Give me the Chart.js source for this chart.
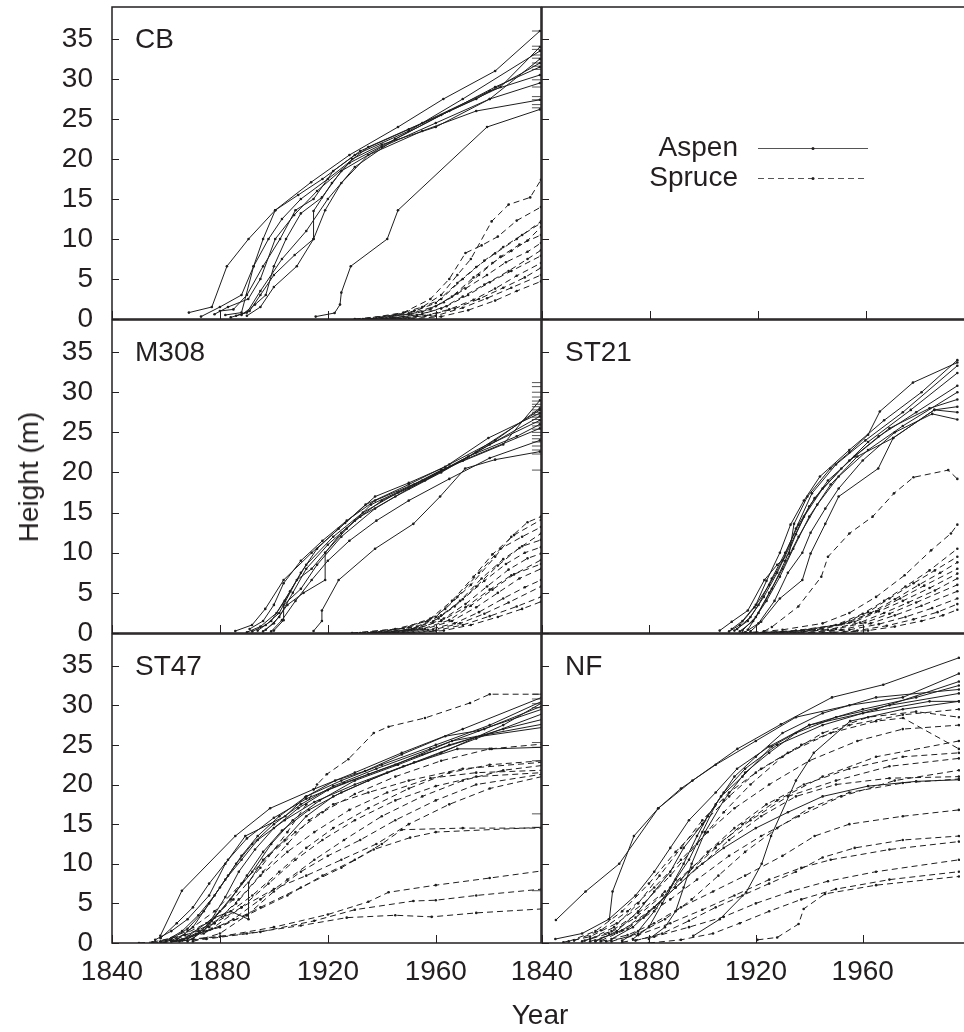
<!DOCTYPE html>
<html lang="en">
<head>
  <meta charset="UTF-8">
  <title>Aspen and spruce height growth</title>
  <script src="https://cdn.jsdelivr.net/npm/chart.js"></script>
  <style>
    body {
      margin: 0;
      background: #fff;
      font-family: 'Liberation Sans', Arial, sans-serif;
      color: #231f20;
    }
    #wrap {
      position: relative;
      width: 964px;
      height: 1032px;
      overflow: hidden;
    }
    #wrap canvas {
      position: absolute;
      left: 0;
      top: 0;
    }
    .axis-title {
      position: absolute;
      font-size: 28px;
      white-space: nowrap;
      transform: translate(-50%, -50%);
    }
    #ytitle {
      left: 29px;
      top: 477px;
      transform: translate(-50%, -50%) rotate(-90deg);
    }
    #xtitle {
      left: 540px;
      top: 1015px;
    }
  </style>
</head>
<body>
  <div id="wrap">
    <canvas id="cb" width="964" height="1032"></canvas>
    <canvas id="key" width="964" height="1032"></canvas>
    <canvas id="m308" width="964" height="1032"></canvas>
    <canvas id="st21" width="964" height="1032"></canvas>
    <canvas id="st47" width="964" height="1032"></canvas>
    <canvas id="nf" width="964" height="1032"></canvas>
    <div class="axis-title" id="ytitle">Height (m)</div>
    <div class="axis-title" id="xtitle">Year</div>
  </div>

  <script>
    // axes
    const yearTicks = [1840, 1880, 1920, 1960];
    const heightTicks = [0, 5, 10, 15, 20, 25, 30, 35];
    const speciesNames = ['Aspen', 'Spruce'];

    // each tree: [year, height (m)]
    const cbAspen = [
      [[1868.5,0.8],[1877,1.5],[1882.6,6.6],[1890.6,10],[1900.5,13.6],[1913.8,17.1],[1928,20.5],[1946,24],[1962.8,27.5],[1982,31],[1998.6,36]],
      [[1873,0.3],[1880,1.5],[1888,3],[1892.5,6.6],[1896,10],[1900.5,13.6],[1909,15.5],[1918,17.5],[1930,20.5],[1950,23.5],[1970,27.5],[1998.6,33.5]],
      [[1878,0.6],[1883,1.5],[1890.5,2.5],[1895,5],[1900.5,10],[1907.5,13],[1916,16],[1928,19.5],[1945,22.5],[1965,26],[1982,29],[1998.6,31.5]],
      [[1880,1],[1885,1.2],[1890,3],[1896,6.6],[1902.3,10],[1908,13.6],[1914.7,15],[1922,18.5],[1932,21],[1950,23.7],[1975,27.5],[1998.6,32]],
      [[1882,0.5],[1888,0.8],[1892.5,6.6],[1898,10],[1903,12.5],[1910,15],[1920,17.5],[1935,21.5],[1955,24.5],[1980,28.5],[1998.6,30.5]],
      [[1886,0.4],[1891,1],[1895,3],[1900,5.5],[1907.7,8],[1914.7,10],[1914.7,13.5],[1921.5,17],[1929,20],[1940,21.8],[1960,24],[1980,27.5],[1998.6,32.5]],
      [[1888,0.5],[1893,1.8],[1897,3],[1900,6.6],[1904.5,10],[1910,13.2],[1917.8,15.2],[1925,18.5],[1940,21.5],[1960,24.5],[1980,27.5],[1998.6,29.5]],
      [[1890,0.4],[1895,1.5],[1900,4],[1908.5,6.6],[1914.7,10],[1919,13.6],[1925,17],[1935,20.5],[1955,23.5],[1975,26],[1998.6,27.4]],
      [[1884,0.2],[1890,0.8],[1895,3.5],[1903,7.5],[1912,11],[1920,15],[1930,19],[1945,22.5],[1962,25.5],[1984,29],[1998.6,34]],
      [[1915.5,0.3],[1922.5,0.75],[1924.5,1.8],[1925,3.3],[1928.5,6.6],[1942,10],[1946,13.6],[1979,24],[1998.6,26.2]]
    ];
    const cbSpruce = [
      [[1930,0],[1945,0.5],[1955,1.5],[1962,3],[1968,5.5],[1973,7.5],[1980.7,12.2],[1987,14.3],[1995,15.2],[1999,17.4]],
      [[1933,0],[1948,0.8],[1958,2.5],[1965,5],[1971,8.25],[1977,9.2],[1983,10.3],[1990,12.3],[1999,14]],
      [[1935,0],[1950,0.7],[1960,2],[1968,4.5],[1975,6.5],[1982,8.2],[1990,10],[1999,12.2]],
      [[1936,0],[1952,1],[1962,2.5],[1970,5],[1978,7.3],[1985,9],[1992,10.5],[1999,12]],
      [[1938,0.1],[1950,0.6],[1960,1.6],[1968,3.2],[1976,5.5],[1984,7.8],[1991,9.3],[1999,10.5]],
      [[1940,0.1],[1955,0.9],[1963,2.1],[1971,3.8],[1979,5.5],[1986,7.1],[1994,8.4],[1999,9.5]],
      [[1940,0],[1953,0.5],[1962,1.3],[1970,2.8],[1978,4.3],[1987,6],[1994,7.5],[1999,8.6]],
      [[1942,0],[1955,0.6],[1964,1.6],[1972,3],[1980,4.6],[1988,6],[1999,7.9]],
      [[1944,0.1],[1956,0.4],[1965,1.2],[1974,2.4],[1982,3.8],[1990,5.4],[1999,7]],
      [[1945,0],[1958,0.5],[1967,1.3],[1976,2.5],[1985,3.9],[1993,5.2],[1999,6.4]],
      [[1947,0],[1960,0.4],[1970,1.4],[1979,2.6],[1988,3.9],[1999,5.5]],
      [[1950,0],[1962,0.3],[1972,1.1],[1982,2.3],[1990,3.5],[1999,4.7]],
      [[1935,0],[1948,0.3],[1958,1.2],[1966,2.8],[1974,5.2],[1981,7],[1988,8.5],[1994,9.8],[1999,11.5]]
    ];
    const cbRug = [36, 34.1, 33.7, 33, 32.6, 32, 31.6, 31.2, 29.9, 29, 27.8, 27.4, 26.8, 26.4];

    const m308Aspen = [
      [[1885.7,0.25],[1891.9,1],[1896.8,3],[1903.6,6.6],[1914,10],[1926.4,13.7],[1937.5,17],[1950,18.7],[1963.5,20.7],[1979.5,24.3],[1998.6,27.4]],
      [[1891,0.5],[1896,1.5],[1900,3.5],[1903.6,6.2],[1910,9],[1918,11.5],[1927,14],[1937.5,16.5],[1955,19],[1975,22.5],[1998.6,27]],
      [[1892,0.2],[1897,1],[1902,2.5],[1908.5,6.6],[1914,8],[1919,10],[1925,12.5],[1932,14.5],[1945,17],[1962,20],[1980,23.5],[1998.6,26.5]],
      [[1894,0.3],[1899,1.5],[1904,4],[1910,7.5],[1916,10.5],[1924,13],[1934,16],[1950,18.5],[1965,21],[1982,24],[1998.6,28]],
      [[1896,0.2],[1900,1.2],[1905,3.5],[1911,5],[1919,6.6],[1919,10],[1927,13],[1936,16],[1952,18.5],[1970,21.5],[1998.6,25.5]],
      [[1897,0.4],[1902,2],[1907,5],[1912,8],[1920,11],[1930,14],[1940,16.5],[1956,19],[1972,22],[1990,24.5],[1998.6,26]],
      [[1899,0.2],[1903,1.6],[1908,4],[1914,6.6],[1920,9],[1928,11.5],[1938,14],[1950,16.5],[1965,19.2],[1980,21.8],[1998.6,24]],
      [[1900,0.3],[1903.6,1.6],[1903.6,3.5],[1910,5.5],[1916,8.5],[1925,12],[1937.5,15.5],[1950,18],[1970,21.5],[1998.6,27.8]],
      [[1914.7,0.25],[1917.8,1.5],[1917.8,2.8],[1924,6.6],[1937.5,10.5],[1951.7,13.6],[1961.6,17],[1970.9,20.5],[1982,21.6],[1998.6,22.6]],
      [[1890,0.1],[1895,0.8],[1901,2.5],[1906,5.2],[1912,8.5],[1922,12],[1933,15],[1946,17.5],[1962,20.3],[1985,23.5],[1998.6,29]]
    ];
    const m308Spruce = [
      [[1929,0],[1945,0.5],[1957,1.5],[1963.5,3],[1973,6],[1982,9.5],[1988,12],[1994,13.8],[1999,14.5]],
      [[1932,0],[1948,0.6],[1958,1.8],[1966,4],[1974,7],[1981,9.8],[1989,12.2],[1999,14.1]],
      [[1935,0],[1950,0.7],[1960,2],[1968,4.5],[1976,7.5],[1984,10.5],[1992,12],[1999,13.2]],
      [[1937,0],[1951,0.5],[1961,1.8],[1969,4],[1977,6.8],[1985,9.2],[1992,10.8],[1999,11.6]],
      [[1938,0.1],[1953,0.8],[1962,2.2],[1970,4.2],[1978,6.5],[1986,8.6],[1993,10],[1999,10.7]],
      [[1940,0],[1954,0.6],[1963,1.8],[1971,3.6],[1979,5.8],[1987,7.9],[1994,9.3],[1999,9.9]],
      [[1941,0],[1955,0.5],[1965,1.6],[1973,3.4],[1981,5.4],[1989,7.3],[1999,9.1]],
      [[1943,0],[1956,0.5],[1966,1.5],[1975,3.2],[1983,5],[1991,6.8],[1999,8]],
      [[1944,0],[1957,0.4],[1967,1.2],[1976,2.6],[1985,4.3],[1993,5.7],[1999,6.6]],
      [[1946,0],[1959,0.4],[1969,1.2],[1978,2.4],[1987,3.8],[1999,5.8]],
      [[1948,0],[1960,0.3],[1970,1],[1980,2.1],[1990,3.3],[1999,4.5]],
      [[1950,0],[1963,0.3],[1973,1],[1983,2],[1992,3],[1999,3.9]],
      [[1936,0],[1950,0.4],[1959,1.4],[1967,3.3],[1975,5.8],[1983,8.4],[1991,10.6],[1999,12.4]],
      [[1939,0],[1952,0.5],[1962,1.5],[1971,3.2],[1980,5.4],[1988,7.2],[1999,8.6]]
    ];
    const m308Rug = [31.2, 30.7, 30, 29.4, 28.9, 28.5, 28.2, 27.8, 27.5, 27.2, 26.9, 26.6, 26.2, 25.8, 25.4, 25, 24.6, 24.2, 23.8, 23.3, 22.8, 22.3, 20.3];

    const st21Aspen = [
      [[1906.5,0.3],[1911,1.4],[1917,2.8],[1923.2,6.6],[1928,8.5],[1932.5,9.9],[1934.3,13.6],[1939.3,17],[1947.9,20.5],[1955,22.5],[1962,24.7],[1966.4,27.6],[1978.8,31.2],[1995.4,33.7]],
      [[1910,0.2],[1914,1],[1919.5,3.2],[1925,6],[1930,9],[1935,13],[1941,17.4],[1950,21],[1961,24],[1975,27.5],[1995.4,33.3]],
      [[1912,0.3],[1917,1.5],[1921,3.5],[1926,6.8],[1931,10],[1936,13.5],[1942,16.8],[1952,20.5],[1962,23.8],[1978,27.8],[1995.4,32.4]],
      [[1913,0.5],[1918,2],[1923,4.5],[1928,7.5],[1933,11],[1938,14.5],[1945,18],[1955,21.5],[1966,24.5],[1980,27.5],[1995.4,30.8]],
      [[1914,0.2],[1919,1.5],[1924,4],[1929,7],[1934,10.5],[1940,14.5],[1948,18.5],[1958,22],[1971.4,24.3],[1986.8,27.8],[1995.4,27.5]],
      [[1915,0.3],[1920,2],[1925,5],[1930,8],[1936,12],[1943,16],[1951,19.5],[1962,22.8],[1975,25.8],[1995.4,30]],
      [[1916,0.1],[1921,1.2],[1927,4],[1932,7.5],[1937.4,10],[1940.5,12.5],[1946,15.5],[1951,18],[1960,21.5],[1972,25],[1986,27.3],[1995.4,26.6]],
      [[1917,0.4],[1921,2.5],[1926,5.5],[1931,9],[1935,12.3],[1940,15.8],[1947,19],[1957,22],[1970,25.5],[1985,28],[1995.4,29.1]],
      [[1918,0.2],[1922,1.4],[1929,4.3],[1937.4,6.6],[1940.5,9.9],[1946,13.6],[1951,17],[1965.8,20.5],[1971.4,24.3],[1986.8,27.8],[1995.4,28.2]],
      [[1911,0.5],[1915,1.5],[1920,3.5],[1924,6.5],[1929,10],[1933,13.5],[1938,16.5],[1944,19.5],[1955,22.8],[1968,26.5],[1982,30],[1995.4,34]]
    ];
    const st21Spruce = [
      [[1923,0.2],[1926,0.75],[1935.9,3.3],[1944.5,7],[1947,9.5],[1955,12.4],[1963.7,14.5],[1971.7,17.4],[1979,19.4],[1992,20.3],[1995.4,19.2]],
      [[1915,0],[1930,0.4],[1945,1.2],[1955,2.5],[1965,4.5],[1975.7,7.2],[1985.6,10.3],[1993,12.4],[1995.4,13.5]],
      [[1918,0],[1935,0.3],[1950,1],[1960,2.4],[1968,4],[1976,5.8],[1985,7.8],[1995.4,10.5]],
      [[1920,0],[1937,0.3],[1952,1.1],[1962,2.6],[1970,4.3],[1979,6.2],[1987,7.8],[1995.4,9.5]],
      [[1922,0],[1940,0.4],[1953,1.2],[1963,2.5],[1972,4.2],[1981,6],[1989,7.5],[1995.4,8.8]],
      [[1925,0],[1942,0.4],[1955,1.3],[1965,2.7],[1974,4.3],[1983,5.9],[1995.4,8]],
      [[1928,0],[1945,0.5],[1957,1.4],[1966,2.7],[1975,4],[1985,5.6],[1995.4,7.4]],
      [[1930,0],[1947,0.4],[1959,1.3],[1968,2.5],[1977,3.8],[1987,5.3],[1995.4,6.8]],
      [[1933,0],[1950,0.5],[1961,1.3],[1970,2.4],[1980,3.8],[1995.4,6]],
      [[1936,0],[1952,0.4],[1963,1.2],[1972,2.2],[1982,3.4],[1995.4,5.2]],
      [[1940,0],[1955,0.4],[1966,1.1],[1976,2],[1986,3.1],[1995.4,4.3]],
      [[1945,0],[1958,0.3],[1969,0.9],[1979,1.7],[1988,2.6],[1995.4,3.6]],
      [[1948,0],[1962,0.3],[1972,0.8],[1982,1.5],[1990,2.2],[1995.4,2.9]]
    ];

    const st47Aspen = [
      [[1857.9,0.9],[1865.9,6.6],[1885.7,13.5],[1898.6,17],[1914.7,19.4],[1930,21.5],[1947.4,24],[1970,27],[1999.3,31]],
      [[1856,0.4],[1862,1.5],[1868,3],[1876,6],[1882,10],[1889.4,13.5],[1904.2,16],[1911.6,18.4],[1922.7,20.5],[1933.8,21.7],[1947.4,23.8],[1963.5,26.1],[1975.8,26.8],[1999.3,29.5]],
      [[1860,0.3],[1866,1.5],[1872,3.5],[1878,6],[1883,8.5],[1888,11],[1894,13.5],[1902,16],[1912,18.5],[1925,20.5],[1940,22.5],[1960,25],[1980,27.5],[1999.3,30.5]],
      [[1862,0.5],[1868,1.8],[1874,4],[1880,7],[1886,10],[1892,12.5],[1900,15],[1910,17.5],[1922,19.8],[1938,22],[1958,24.5],[1978,27],[1999.3,29.9]],
      [[1864,0.4],[1870,2],[1876,5],[1882,8],[1888,10.5],[1894,13],[1904,15.5],[1915,17.8],[1930,20],[1948,22.3],[1968,24.5],[1980.7,24.5],[1999.3,24.7]],
      [[1866,0.3],[1872,1.8],[1878,3.2],[1884,4],[1890.6,3],[1890.6,7.6],[1896,10.5],[1904,13],[1912,16],[1922,18.5],[1935,20.5],[1952,22.8],[1975,25.8],[1999.3,28.9]],
      [[1868,0.2],[1874,1.5],[1880,4],[1886,6.5],[1892,9],[1899,12.5],[1907,15.5],[1917,18],[1930,20.5],[1946,22.5],[1965,25],[1985,27],[1999.3,28.2]],
      [[1858,0.6],[1864,2.5],[1870,4.5],[1876,7.5],[1883,10.5],[1890,13.2],[1900,15.8],[1912,18.2],[1926,20.2],[1945,22.5],[1966,25.5],[1999.3,27.6]],
      [[1870,0.5],[1876,2.5],[1882,5.8],[1887,9],[1893,11.8],[1900,14.5],[1909,17],[1920,19.3],[1935,21.3],[1955,23.8],[1975,26],[1999.3,27.2]],
      [[1865,0.2],[1871,1],[1877,2.8],[1884,5.5],[1890,8.5],[1896,11.5],[1903,14.2],[1913,16.8],[1925,19],[1942,21.5],[1962,24],[1985,27.5],[1999.3,30.3]]
    ];
    const st47Spruce = [
      [[1862,0.3],[1875,2.5],[1885,5.5],[1895,9.5],[1905,14],[1912,17.5],[1916,20],[1919.6,21.3],[1927.6,23.2],[1937,26.5],[1942.5,27.3],[1956,28.4],[1972.7,30.3],[1980,31.4],[1999.3,31.4]],
      [[1860,0.2],[1875,1.5],[1890,3.5],[1905,6],[1918,8.5],[1930,10.5],[1940,12.5],[1947.4,14.3],[1970,14.5],[1999.3,14.5]],
      [[1864,0.3],[1880,2],[1895,4.5],[1910,7],[1925,9.5],[1937,11.8],[1950.5,13.3],[1960,14],[1999.3,14.6]],
      [[1850,0],[1870,0.5],[1890,1.2],[1910,2.2],[1927,3.2],[1945,3.5],[1958.5,3.3],[1975,3.8],[1999.3,4.3]],
      [[1855,0],[1875,0.5],[1895,1.4],[1915,2.8],[1930,4.2],[1951.7,5.3],[1960,5.4],[1975,6],[1999.3,6.8]],
      [[1858,0],[1880,0.8],[1900,2],[1920,3.6],[1935,5.2],[1942.5,6.4],[1960,7.3],[1980,8.2],[1999.3,9.1]],
      [[1860,0.3],[1872,1.5],[1882,3.5],[1892,6],[1902,9],[1912,12],[1922,14.5],[1935,17],[1950,19.5],[1965,21.5],[1980,22.5],[1999.3,23]],
      [[1862,0.2],[1874,1.2],[1885,3],[1895,5.5],[1905,8],[1915,10.5],[1926,13],[1940,16],[1955,18.5],[1970,20.5],[1985,21.8],[1999.3,22.4]],
      [[1865,0.3],[1877,1.8],[1888,4.5],[1898,7.5],[1908,10.5],[1918,13],[1930,15.5],[1945,18],[1960,19.8],[1975,21],[1999.3,21.5]],
      [[1858,0.2],[1868,1.5],[1878,4],[1888,7.5],[1898,11],[1908,14],[1918,16.5],[1930,18.8],[1945,21],[1962,23],[1980,24.5],[1999.3,25.1]],
      [[1866,0.4],[1876,2],[1886,5],[1895,8.5],[1905,11.5],[1915,14],[1928,16.8],[1942,19],[1958,20.8],[1975,21.5],[1999.3,21.8]],
      [[1870,0.2],[1880,1.2],[1890,3.5],[1900,6.5],[1910,9],[1920,11],[1932,13],[1945,15.5],[1960,18],[1975,20],[1999.3,21.3]],
      [[1855,0.1],[1867,1],[1878,2.5],[1888,4.5],[1900,6.8],[1912,8.5],[1925,10.5],[1938,12.5],[1950,15],[1965,17.5],[1980,19.5],[1999.3,21]],
      [[1868,0.5],[1878,2.5],[1887,5.5],[1896,9],[1905,12.5],[1913,15.5],[1922,17.5],[1935,19],[1950,20.5],[1970,22],[1999.3,22.8]]
    ];
    const st47Rug = [31.4, 30.8, 30.2, 29.7, 25.3, 24.7, 23, 16.3, 14.6, 6.6];

    const nfAspen = [
      [[1845.2,2.9],[1856.3,6.5],[1868.9,10],[1883.5,17],[1896.3,20.5],[1913.1,24.5],[1929.4,27.6],[1948.5,31],[1967.7,32.6],[1996,36]],
      [[1865.2,3],[1866.4,6.5],[1874.4,13.5],[1883.5,17],[1892,19.5],[1905,22.5],[1920,25.5],[1935,28.5],[1955,30],[1975,31],[1996,34]],
      [[1845,0.5],[1855,1.2],[1865,3],[1875,6],[1882,9],[1888,12],[1895,15.5],[1905,19],[1913,22],[1925,24.8],[1940,27.5],[1960,29.5],[1980,31],[1996,32.5]],
      [[1896.6,0.9],[1906.5,3],[1916.4,6.4],[1922.2,10],[1925.7,13.5],[1935,20.5],[1941.7,24],[1955.3,28],[1975,29.5],[1996,30.5]],
      [[1880,0.5],[1886,2],[1890,4],[1893,7],[1896,10],[1901,14],[1908,18],[1916,21.5],[1925,24],[1935,26.5],[1950,28.5],[1970,30],[1996,31.5]],
      [[1870,0.3],[1876,1.5],[1882,4],[1888,7],[1893,10],[1898,13.5],[1902,16],[1908,19],[1916,22],[1928,25],[1945,27.5],[1965,29.5],[1996,33]],
      [[1860,0.2],[1868,1.5],[1876,4],[1882,6.5],[1888,9],[1893,12],[1900,15],[1907,18.5],[1915,21],[1926,24.8],[1940,27.5],[1960,29],[1985,30.5],[1996,30.5]],
      [[1866,0.5],[1874,2],[1882,4.5],[1890,7],[1898,9.5],[1908,12],[1920,14.5],[1932,16.5],[1945,18.5],[1962,19.8],[1980,20.4],[1996,20.6]],
      [[1874,0.5],[1880,2],[1885,5],[1890,8],[1895,10.5],[1900,14],[1905,17.5],[1912,21],[1920,23.5],[1930,26.5],[1945,29],[1965,31],[1996,32]]
    ];
    const nfSpruce = [
      [[1850,0.2],[1860,1.5],[1870,4],[1880,7.5],[1890,11.5],[1900,15],[1910,18.5],[1920,21.5],[1932,24],[1948,26.5],[1965,28],[1975.1,28.4],[1996,24.5]],
      [[1852,0.3],[1862,1.6],[1872,4],[1882,7],[1892,10.5],[1902,14],[1912,17],[1925,20],[1940,23],[1958,25.5],[1975,27],[1996,27.5]],
      [[1855,0.2],[1865,1.2],[1875,3.2],[1885,6],[1895,9],[1905,12],[1915,15],[1928,18],[1945,21],[1965,23.5],[1996,25.5]],
      [[1856,0.3],[1866,1.5],[1876,3.8],[1886,6.5],[1896,9.5],[1906,12.5],[1918,15.5],[1932,18.5],[1950,20.5],[1970,22.3],[1996,23.3]],
      [[1858,0.2],[1868,1.3],[1878,3.2],[1888,5.5],[1898,8],[1910,11],[1922,13.5],[1936,16],[1952,18.5],[1972,20.5],[1996,21.8]],
      [[1860,0.3],[1870,1.6],[1880,4],[1890,7],[1900,10],[1910,13],[1922,16],[1935,18.5],[1950,20],[1970,20.8],[1996,21]],
      [[1862,0.2],[1872,1],[1882,2.5],[1892,4.5],[1904,6.5],[1916,8.5],[1930,11],[1942,13.5],[1955,15],[1975,16],[1996,16.8]],
      [[1864,0.2],[1876,1],[1888,2.5],[1900,4.2],[1912,6],[1925,8],[1937,9.5],[1948,10.5],[1970,11.8],[1996,12.8]],
      [[1870,0.1],[1882,0.8],[1895,2],[1908,3.3],[1920,5],[1933,6.5],[1947,7.8],[1965,9],[1996,10.5]],
      [[1920.6,0.4],[1928,0.7],[1936,2.4],[1937.9,4.3],[1945.9,6.2],[1965,7.3],[1996,8.4]],
      [[1858,0.5],[1867,2],[1876,5],[1884,8.5],[1892,12],[1900,15.5],[1910,19],[1922,22],[1937,25],[1955,27.5],[1975,28.8],[1996,29.5]],
      [[1848,0.1],[1858,0.8],[1868,2.5],[1878,5],[1888,8.5],[1898,12.5],[1908,16.5],[1918,20],[1930,23.5],[1945,26.5],[1962,28.5],[1980,29.2],[1996,28.5]],
      [[1862,0.3],[1872,1.8],[1882,4.5],[1892,8],[1902,11.5],[1912,14.5],[1924,17.5],[1938,20],[1955,22],[1975,23.5],[1996,24]],
      [[1866,0.2],[1876,1.2],[1886,3],[1896,5.5],[1906,8.5],[1916,11.5],[1928,14.5],[1940,17],[1955,19],[1975,20.2],[1996,20.7]],
      [[1875,0.3],[1885,1.2],[1895,2.8],[1905,4.5],[1915,6],[1925,7.5],[1935,9],[1945,10.8],[1957,12],[1975,13],[1996,13.5]],
      [[1880,0],[1892,0.4],[1904,1.2],[1914,2.5],[1925,4],[1937,5.5],[1950,6.8],[1970,8],[1996,9]]
    ];

    const ink = '#231f20';
    const lineInk = '#1e1e1e';
    const spruceDash = [6, 4];
    const font = '"Liberation Sans", Arial, sans-serif';
    const rugYear = 1997.5;

    // layout: panel boxes in page pixels [left, top, right, bottom]
    const panels = [
      { id: 'cb', label: 'CB', aspen: cbAspen, spruce: cbSpruce, rug: cbRug, box: [112, 7, 541, 319], xMax: 1999, yLabels: true, xLabels: false, rightEdge: true },
      { id: 'm308', label: 'M308', aspen: m308Aspen, spruce: m308Spruce, rug: m308Rug, box: [112, 320, 541, 633], xMax: 1999, yLabels: true, xLabels: false, rightEdge: true },
      { id: 'st21', label: 'ST21', aspen: st21Aspen, spruce: st21Spruce, rug: [], box: [542, 320, 964, 633], xMax: 1996.4, yLabels: false, xLabels: false, rightEdge: false },
      { id: 'st47', label: 'ST47', aspen: st47Aspen, spruce: st47Spruce, rug: st47Rug, box: [112, 634, 541, 943], xMax: 1999, yLabels: true, xLabels: true, rightEdge: true },
      { id: 'nf', label: 'NF', aspen: nfAspen, spruce: nfSpruce, rug: [], box: [542, 634, 964, 943], xMax: 1996.4, yLabels: false, xLabels: true, rightEdge: false },
      { id: 'key', label: '', aspen: [], spruce: [], rug: [], box: [542, 7, 964, 319], xMax: 1996.4, yLabels: false, xLabels: false, rightEdge: false, legend: true }
    ];

    const W = 964, H = 1032;
    const yAxisW = 112, xAxisH = 60;

    const framePlugin = {
      id: 'panelFrame',
      afterDatasetsDraw(chart, args, opts) {
        const { ctx, chartArea: a, scales: { x, y } } = chart;
        ctx.save();
        ctx.strokeStyle = ink;
        ctx.lineWidth = 1.5;
        ctx.beginPath();
        if (opts.rightEdge) {
          ctx.rect(a.left, a.top, a.right - a.left, a.bottom - a.top);
        } else {
          ctx.moveTo(W, a.top);
          ctx.lineTo(a.left, a.top);
          ctx.lineTo(a.left, a.bottom);
          ctx.lineTo(W, a.bottom);
        }
        ctx.stroke();
        ctx.lineWidth = 1;
        ctx.beginPath();
        heightTicks.forEach(v => {
          const py = Math.round(y.getPixelForValue(v)) + 0.5;
          ctx.moveTo(a.left, py);
          ctx.lineTo(a.left + 7, py);
        });
        yearTicks.forEach(v => {
          const px = Math.round(x.getPixelForValue(v)) + 0.5;
          ctx.moveTo(px, a.bottom);
          ctx.lineTo(px, a.bottom - 8);
        });
        ctx.stroke();
        if (opts.label) {
          ctx.font = '28px ' + font;
          ctx.fillStyle = ink;
          ctx.textBaseline = 'middle';
          ctx.textAlign = 'left';
          ctx.fillText(opts.label, a.left + 23, a.top + 33);
        }
        ctx.restore();
      }
    };

    // legend drawn inside the empty top-right panel
    const keyPlugin = {
      id: 'speciesKey',
      afterDatasetsDraw(chart, args, opts) {
        if (!opts.show) return;
        const ctx = chart.ctx;
        ctx.save();
        ctx.font = '28px ' + font;
        ctx.textAlign = 'right';
        ctx.textBaseline = 'middle';
        chart.data.datasets.forEach((ds, i) => {
          const ly = 148 + i * 30;
          ctx.fillStyle = ink;
          ctx.fillText(ds.label, 738, ly);
          ctx.strokeStyle = '#555';
          ctx.lineWidth = 1.2;
          ctx.setLineDash(ds.borderDash || []);
          ctx.beginPath();
          ctx.moveTo(758, ly + 0.5);
          ctx.lineTo(868, ly + 0.5);
          ctx.stroke();
          ctx.setLineDash([]);
          ctx.beginPath();
          ctx.arc(813, ly + 0.5, 1.5, 0, Math.PI * 2);
          ctx.fill();
        });
        ctx.restore();
      }
    };

    function treeDataset(tree, dashed) {
      return {
        type: 'line',
        data: tree.map(p => ({ x: p[0], y: p[1] })),
        borderColor: lineInk,
        borderWidth: 1,
        borderDash: dashed ? spruceDash : [],
        pointRadius: 1.3,
        pointBorderWidth: 0,
        pointBackgroundColor: lineInk,
        tension: 0,
        fill: false
      };
    }

    panels.forEach(p => {
      const [l, t, r, b] = p.box;
      let datasets = [];
      if (p.legend) {
        datasets = speciesNames.map((name, i) => ({ label: name, data: [], borderDash: i ? spruceDash : [] }));
      } else {
        p.spruce.forEach(tree => datasets.push(treeDataset(tree, true)));
        p.aspen.forEach(tree => datasets.push(treeDataset(tree, false)));
        if (p.rug.length) {
          datasets.push({
            type: 'scatter',
            data: p.rug.map(h => ({ x: rugYear, y: h })),
            pointStyle: 'line',
            pointRadius: 5,
            pointBorderWidth: 1,
            pointBorderColor: '#555',
            showLine: false
          });
        }
      }

      new Chart(document.getElementById(p.id), {
        type: 'line',
        data: { datasets },
        options: {
          responsive: false,
          animation: false,
          events: [],
          layout: {
            padding: {
              left: p.yLabels ? l - yAxisW : l,
              top: t,
              right: W - r,
              bottom: p.xLabels ? H - b - xAxisH : H - b
            }
          },
          scales: {
            x: {
              type: 'linear',
              min: 1840,
              max: p.xMax,
              grid: { display: false, drawTicks: false },
              border: { display: false },
              afterBuildTicks: s => { s.ticks = yearTicks.map(v => ({ value: v })); },
              afterFit: s => {
                s.height = p.xLabels ? xAxisH : 0;
                s.paddingLeft = 0;
                s.paddingRight = 0;
              },
              ticks: {
                display: p.xLabels,
                padding: 12,
                maxRotation: 0,
                autoSkip: false,
                color: ink,
                font: { family: font, size: 28 },
                callback: v => String(v)
              }
            },
            y: {
              min: 0,
              max: 39,
              grid: { display: false, drawTicks: false },
              border: { display: false },
              afterBuildTicks: s => { s.ticks = heightTicks.map(v => ({ value: v })); },
              afterFit: s => {
                s.width = p.yLabels ? yAxisW : 0;
                s.paddingTop = 0;
                s.paddingBottom = 0;
              },
              ticks: {
                display: p.yLabels,
                padding: 19,
                autoSkip: false,
                color: ink,
                font: { family: font, size: 28 }
              }
            }
          },
          plugins: {
            legend: { display: false },
            tooltip: { enabled: false },
            panelFrame: { label: p.label, rightEdge: p.rightEdge },
            speciesKey: { show: !!p.legend }
          }
        },
        plugins: [framePlugin, keyPlugin]
      });
    });
  </script>
</body>
</html>
